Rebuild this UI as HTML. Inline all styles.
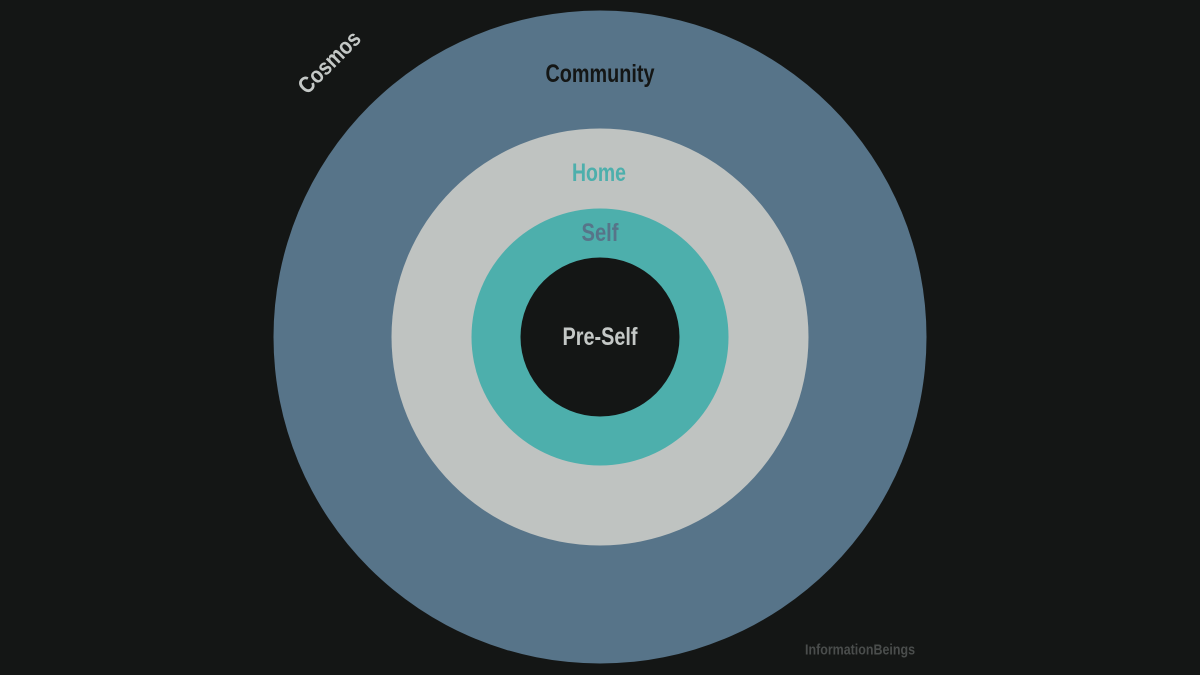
<!DOCTYPE html>
<html><head><meta charset="utf-8"><style>
html,body{margin:0;padding:0;background:#141615;}
svg{display:block}
text{font-family:"Liberation Sans",sans-serif;font-weight:bold;text-anchor:middle;dominant-baseline:central}
</style></head><body>
<svg width="1200" height="675" viewBox="0 0 1200 675">
<rect width="1200" height="675" fill="#141615"/>
<circle cx="600" cy="337" r="326.5" fill="#577489"/>
<circle cx="600" cy="337" r="208.5" fill="#bfc3c1"/>
<circle cx="600" cy="337" r="128.5" fill="#4dafac"/>
<circle cx="600" cy="337" r="79.5" fill="#141615"/>
<text x="329" y="62" font-size="23" fill="#c4c8c6" textLength="78" lengthAdjust="spacingAndGlyphs" transform="rotate(-45 329 62)">Cosmos</text>
<text x="600" y="74" font-size="25" fill="#141615" textLength="109" lengthAdjust="spacingAndGlyphs">Community</text>
<text x="599" y="173" font-size="25" fill="#4dafac" textLength="54" lengthAdjust="spacingAndGlyphs">Home</text>
<text x="600" y="233" font-size="25" fill="#577489" textLength="37" lengthAdjust="spacingAndGlyphs">Self</text>
<text x="600" y="337" font-size="25" fill="#c4c8c6" textLength="75" lengthAdjust="spacingAndGlyphs">Pre-Self</text>
<text x="860" y="650" font-size="15" fill="#4a4d4c" textLength="110" lengthAdjust="spacingAndGlyphs">InformationBeings</text>
</svg>
</body></html>
